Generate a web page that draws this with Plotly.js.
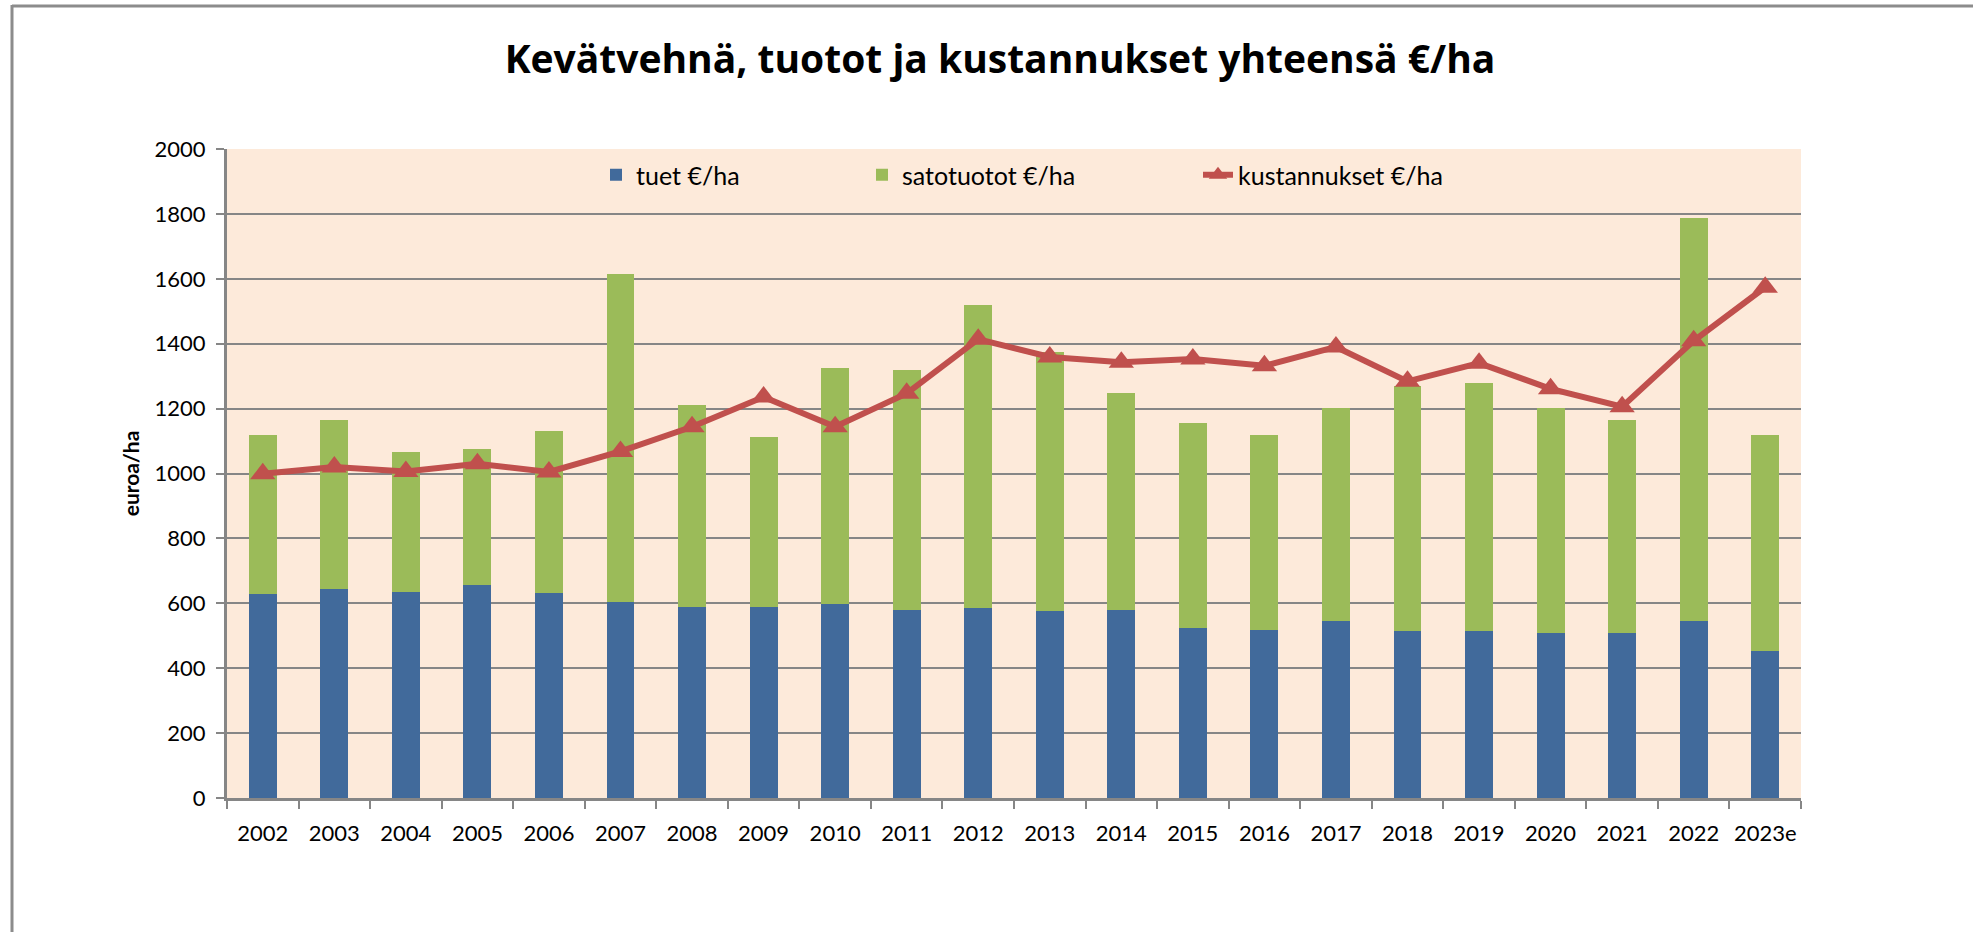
<!DOCTYPE html>
<html>
<head>
<meta charset="utf-8">
<script src="https://cdn.plot.ly/plotly-3.0.1.min.js"></script>
<style>html,body{margin:0;padding:0;background:#fff;}#chart{width:1973px;height:932px;}</style>
</head>
<body>
<div id="chart"></div>
<script>
// Data
const years = ["2002","2003","2004","2005","2006","2007","2008","2009","2010","2011","2012","2013","2014","2015","2016","2017","2018","2019","2020","2021","2022","2023e"];
const tuet = [628,645,635,656,632,605,590,590,597,580,584,577,580,525,518,546,515,515,510,510,546,452];
const satotuotot = [492,519,432,418,498,1009,622,523,729,738,936,798,667,632,602,657,756,763,693,654,1242,666];
const kustannukset = [999,1020,1006,1030,1005,1068,1144,1236,1144,1247,1414,1359,1343,1353,1332,1390,1284,1340,1261,1206,1409,1574];

const seriesNames = ["tuet €/ha","satotuotot €/ha","kustannukset €/ha"];
const chartTitle = "Kevätvehnä, tuotot ja kustannukset yhteensä €/ha";
const yTitle = "euroa/ha";

const FONT = "Lato, 'Open Sans', sans-serif";
const W = 1973, H = 932;
const L = 227, R = 1801, T = 149, B = 798;
const pw = R - L, ph = B - T;
const px = v => (v - L) / pw;
const py = v => (B - v) / ph;

const traces = [
  {type:'bar', name:seriesNames[0], x:years, y:tuet, marker:{color:'#416A9B', line:{width:0}}, legend:'legend'},
  {type:'bar', name:seriesNames[1], x:years, y:satotuotot, marker:{color:'#9BBB59', line:{width:0}}, legend:'legend2'},
  {type:'scatter', mode:'lines+markers', name:seriesNames[2], x:years, y:kustannukset,
   line:{color:'#C0504D', width:6}, marker:{symbol:'triangle-up', size:22, color:'#C0504D'}, legend:'legend3'}
];

const legendBase = {orientation:'h', yanchor:'middle', xanchor:'left', bgcolor:'rgba(0,0,0,0)',
  font:{family:FONT, size:25, color:'#000'}, itemwidth:30};

const layout = {
  width:W, height:H,
  margin:{l:L, r:W-R, t:T, b:H-B, pad:0},
  paper_bgcolor:'#ffffff',
  plot_bgcolor:'#FDEADA',
  barmode:'stack',
  bargap:0.61,
  hovermode:false,
  title:{text:'<b>'+chartTitle+'</b>', x:1000/W, xanchor:'center', xref:'container',
         y:1-59/H, yanchor:'middle', yref:'container', font:{family:"'Open Sans', sans-serif", size:39, color:'#000'}},
  xaxis:{type:'category', range:[-0.5, years.length-0.5], showline:true, linecolor:'#868686', linewidth:3,
         ticks:'outside', tickson:'boundaries', ticklen:8, tickcolor:'#868686', tickwidth:2, tickangle:0,
         ticklabelstandoff:14,
         tickfont:{family:FONT, size:22, color:'#000'}, showgrid:false, zeroline:false, automargin:false},
  yaxis:{range:[0,2000], dtick:200, showline:true, linecolor:'#868686', linewidth:3,
         ticks:'outside', ticklen:8, tickcolor:'#868686', tickwidth:2,
         showgrid:true, gridcolor:'#868686', gridwidth:2, zeroline:false,
         tickfont:{family:FONT, size:22, color:'#000'}, ticklabelstandoff:6,
         title:{text:'<b>'+yTitle+'</b>', font:{family:FONT, size:21, color:'#000'}, standoff:10},
         automargin:false},
  showlegend:true,
  legend: Object.assign({}, legendBase, {x:px(596), y:py(175)}),
  legend2: Object.assign({}, legendBase, {x:px(862), y:py(175)}),
  legend3: Object.assign({}, legendBase, {x:px(1198), y:py(175)}),
  shapes:[
    {type:'line', xref:'paper', yref:'paper', x0:px(12), x1:px(1973), y0:py(6), y1:py(6), line:{color:'#8C8C8C', width:3}},
    {type:'line', xref:'paper', yref:'paper', x0:px(12), x1:px(12), y0:py(5), y1:py(932), line:{color:'#8C8C8C', width:3}}
  ]
};

Plotly.newPlot('chart', traces, layout, {staticPlot:true, displayModeBar:false});
</script>
</body>
</html>
